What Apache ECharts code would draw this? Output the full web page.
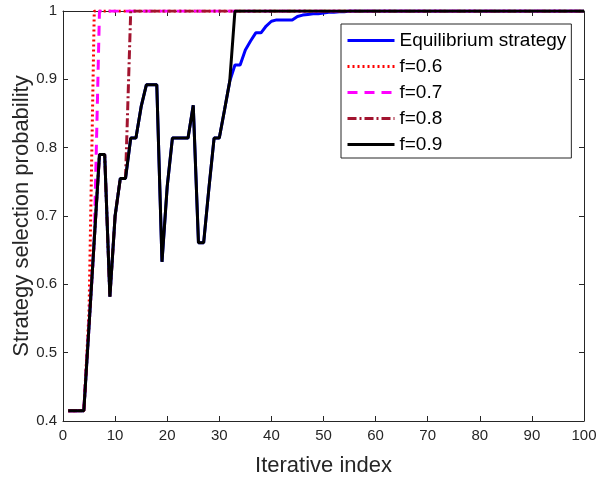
<!DOCTYPE html>
<html>
<head>
<meta charset="utf-8">
<script src="https://cdn.jsdelivr.net/npm/echarts@6/dist/echarts.min.js"></script>
<style>
  html, body { margin: 0; padding: 0; background: #fff; }
  #chart { width: 598px; height: 479px; }
</style>
</head>
<body>
<div id="chart"></div>
<script>
  // breakpoints of each curve (iteration index, probability)
  var eqX = [1, 2, 3, 4, 5, 6, 7, 8, 9, 10, 11, 12, 13, 14, 15, 16, 17, 18, 19, 20, 21, 22, 23, 24, 25, 26, 27, 28, 29, 30, 31, 32,
    33, 34, 35, 36, 37, 38, 39, 40, 41, 42, 43, 44, 45, 46, 47, 48, 49, 50, 51, 52, 53, 54, 55, 100];
  var eqY = [0.415, 0.415, 0.415, 0.415, 0.54, 0.665, 0.79, 0.79, 0.582, 0.70, 0.755, 0.755, 0.814, 0.814, 0.86, 0.892, 0.892, 0.892,
    0.633, 0.743, 0.814, 0.814, 0.814, 0.814, 0.862, 0.661, 0.661, 0.74, 0.814, 0.814, 0.855, 0.897,
    0.921, 0.921, 0.943, 0.956, 0.968, 0.968, 0.978, 0.985, 0.987, 0.987, 0.987, 0.987, 0.992, 0.994, 0.995, 0.996, 0.996, 0.997,
    0.998, 0.998, 0.999, 0.999, 1, 1];

  var f06X = [1, 2, 3, 4, 5, 6, 100];
  var f06Y = [0.415, 0.415, 0.415, 0.415, 0.56, 1, 1];

  var f07X = [1, 2, 3, 4, 5, 6, 7, 100];
  var f07Y = [0.415, 0.415, 0.415, 0.415, 0.54, 0.665, 1, 1];

  var f08X = [1, 2, 3, 4, 5, 6, 7, 8, 9, 10, 11, 12, 13, 100];
  var f08Y = [0.415, 0.415, 0.415, 0.415, 0.54, 0.665, 0.79, 0.79, 0.582, 0.70, 0.755, 0.755, 1, 1];

  var f09X = [1, 2, 3, 4, 5, 6, 7, 8, 9, 10, 11, 12, 13, 14, 15, 16, 17, 18, 19, 20, 21, 22, 23, 24, 25, 26, 27, 28, 29, 30, 31, 32, 33, 100];
  var f09Y = [0.415, 0.415, 0.415, 0.415, 0.54, 0.665, 0.79, 0.79, 0.582, 0.70, 0.755, 0.755, 0.814, 0.814, 0.86, 0.892, 0.892, 0.892,
    0.633, 0.743, 0.814, 0.814, 0.814, 0.814, 0.862, 0.661, 0.661, 0.74, 0.814, 0.814, 0.855, 0.897, 1, 1];

  var seriesNames = ['Equilibrium strategy', 'f=0.6', 'f=0.7', 'f=0.8', 'f=0.9'];

  function pairs(xs, ys) {
    return xs.map(function (x, i) { return [x, ys[i]]; });
  }

  var axisColor = '#262626';
  var font = 'Liberation Sans, Arial, Helvetica, sans-serif';

  function xAx(pos, withLabel) {
    return {
      type: 'value', position: pos, min: 0, max: 100, interval: 10,
      axisLine: { show: true, onZero: false, lineStyle: { color: axisColor, width: 1 } },
      axisTick: { show: true, inside: true, length: 5, lineStyle: { color: axisColor } },
      axisLabel: { show: withLabel, color: axisColor, fontSize: 15, fontFamily: font, margin: 7 },
      splitLine: { show: false },
      name: withLabel ? 'Iterative index' : '',
      nameLocation: 'middle', nameGap: 34,
      nameTextStyle: { color: axisColor, fontSize: 22, fontFamily: font }
    };
  }

  function yAx(pos, withLabel) {
    return {
      type: 'value', position: pos, min: 0.4, max: 1, interval: 0.1,
      axisLine: { show: true, onZero: false, lineStyle: { color: axisColor, width: 1 } },
      axisTick: { show: true, inside: true, length: 5, lineStyle: { color: axisColor } },
      axisLabel: { show: withLabel, color: axisColor, fontSize: 15, fontFamily: font, margin: 6 },
      splitLine: { show: false },
      name: withLabel ? 'Strategy selection probability' : '',
      nameLocation: 'middle', nameGap: 30, nameMoveOverlap: false,
      nameTextStyle: { color: axisColor, fontSize: 22, fontFamily: font }
    };
  }

  var chart = echarts.init(document.getElementById('chart'));
  var option = {
    animation: false,
    backgroundColor: '#fff',
    grid: { left: 63, right: 14, top: 11, bottom: 58, outerBoundsMode: 'none' },
    xAxis: [xAx('bottom', true), xAx('top', false)],
    yAxis: [yAx('left', true), yAx('right', false)],
    legend: {
      data: seriesNames,
      orient: 'vertical',
      left: 341, top: 24,
      padding: [7, 5, 4, 5],
      itemWidth: 47, itemHeight: 14, itemGap: 7,
      backgroundColor: '#fff',
      borderColor: axisColor, borderWidth: 1,
      selectedMode: false,
      itemStyle: { opacity: 0 },
      lineStyle: { width: 3 },
      textStyle: { color: '#000', fontSize: 19, fontFamily: font }
    },
    series: [{
      name: seriesNames[0], type: 'line', symbol: 'none',
      data: pairs(eqX, eqY),
      lineStyle: { color: '#0000ff', width: 3 }, itemStyle: { color: '#0000ff' }
    }, {
      name: seriesNames[1], type: 'line', symbol: 'none',
      data: pairs(f06X, f06Y),
      lineStyle: { color: '#ff0000', width: 3, type: [2, 3] }, itemStyle: { color: '#ff0000' }
    }, {
      name: seriesNames[2], type: 'line', symbol: 'none',
      data: pairs(f07X, f07Y),
      lineStyle: { color: '#ff00ff', width: 3, type: [10, 7] }, itemStyle: { color: '#ff00ff' }
    }, {
      name: seriesNames[3], type: 'line', symbol: 'none',
      data: pairs(f08X, f08Y),
      lineStyle: { color: '#a2142f', width: 3, type: [9, 3, 2, 3] }, itemStyle: { color: '#a2142f' }
    }, {
      name: seriesNames[4], type: 'line', symbol: 'none',
      data: pairs(f09X, f09Y),
      lineStyle: { color: '#000000', width: 3 }, itemStyle: { color: '#000000' }
    }]
  };
  chart.setOption(option);
</script>
</body>
</html>
